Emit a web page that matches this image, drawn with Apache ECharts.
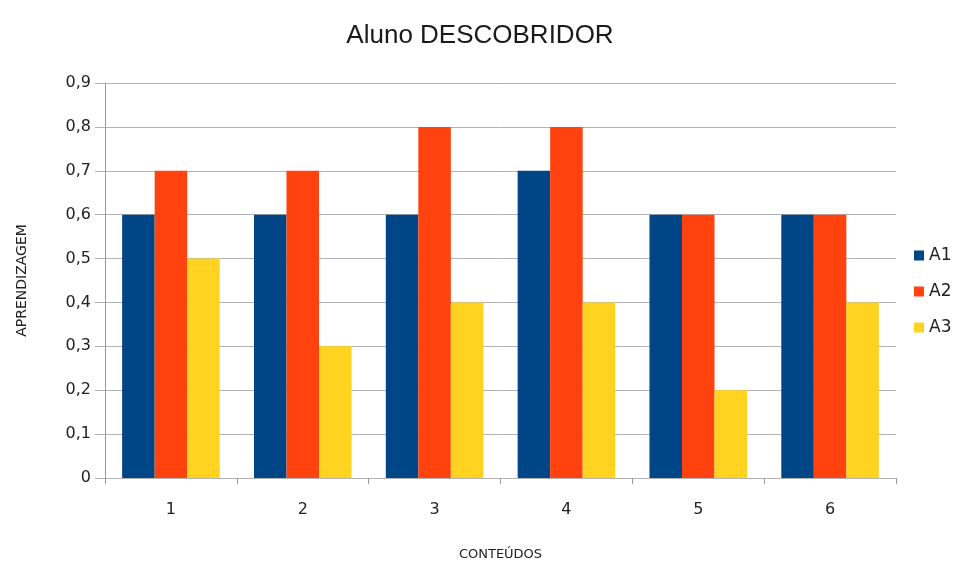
<!DOCTYPE html>
<html>
<head>
<meta charset="utf-8">
<script src="https://cdn.jsdelivr.net/npm/echarts@6/dist/echarts.min.js"></script>
<style>
  html, body { margin: 0; padding: 0; background: #fff; }
  #chart { width: 960px; height: 566px; }
</style>
</head>
<body>
<div id="chart"></div>
<script>
const categories = ['1', '2', '3', '4', '5', '6']
const seriesNames = ['A1', 'A2', 'A3']
const a1 = [0.6, 0.6, 0.6, 0.7, 0.6, 0.6]
const a2 = [0.7, 0.7, 0.8, 0.8, 0.6, 0.6]
const a3 = [0.5, 0.3, 0.4, 0.4, 0.2, 0.4]
const colors = ['#004586', '#ff420e', '#ffd320']

const chart = echarts.init(document.getElementById('chart'))

chart.setOption({
  backgroundColor: '#fff',
  animation: false,
  color: colors,
  title: {
    text: 'Aluno DESCOBRIDOR',
    left: 'center',
    top: 18,
    textStyle: { fontFamily: 'Liberation Sans', fontSize: 26, fontWeight: 'normal', color: '#1a1a1a' }
  },
  legend: {
    orient: 'vertical',
    left: 909,
    top: 242,
    itemWidth: 10,
    itemHeight: 10,
    itemGap: 19,
    icon: 'rect',
    textStyle: { fontFamily: 'DejaVu Sans', fontSize: 17, color: '#222' },
    data: seriesNames
  },
  grid: { left: 105, right: 64, top: 83, bottom: 85 },
  xAxis: {
    type: 'category',
    data: categories,
    name: 'CONTEÚDOS',
    nameLocation: 'middle',
    nameGap: 70,
    nameTextStyle: { fontFamily: 'DejaVu Sans', fontSize: 13, color: '#222' },
    axisLine: { lineStyle: { color: '#b3b3b3' } },
    axisTick: { show: true, length: 6, lineStyle: { color: '#999' } },
    axisLabel: { fontFamily: 'DejaVu Sans', fontSize: 16, color: '#222', margin: 24 }
  },
  yAxis: {
    type: 'value',
    min: 0,
    max: 0.9,
    interval: 0.1,
    name: 'APRENDIZAGEM',
    nameLocation: 'middle',
    nameGap: 76,
    nameTextStyle: { fontFamily: 'DejaVu Sans', fontSize: 14, color: '#222' },
    axisLine: { show: true, lineStyle: { color: '#999' } },
    axisTick: { show: true, length: 10, lineStyle: { color: '#b3b3b3' } },
    axisLabel: {
      fontFamily: 'DejaVu Sans',
      fontSize: 16,
      color: '#222',
      margin: 14,
      formatter: v => (Math.round(v * 10) / 10).toString().replace('.', ',')
    },
    splitLine: { lineStyle: { color: '#b3b3b3' } }
  },
  series: [
    { name: 'A1', type: 'bar', data: a1, barGap: '0%', barCategoryGap: '26%' },
    { name: 'A2', type: 'bar', data: a2, barGap: '0%', barCategoryGap: '26%' },
    { name: 'A3', type: 'bar', data: a3, barGap: '0%', barCategoryGap: '26%' }
  ]
})
</script>
</body>
</html>
